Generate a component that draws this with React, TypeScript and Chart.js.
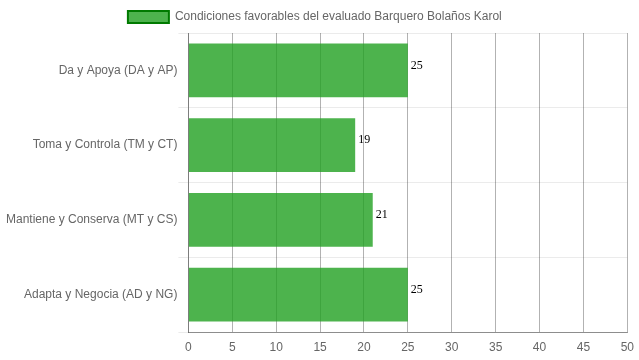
import React, { useEffect, useRef } from "react";
import { Chart, registerables } from "chart.js";
Chart.register(...registerables);

const categories = [
  "Da y Apoya (DA y AP)",
  "Toma y Controla (TM y CT)",
  "Mantiene y Conserva (MT y CS)",
  "Adapta y Negocia (AD y NG)",
];
const values = [25, 19, 21, 25];
const seriesLabel = "Condiciones favorables del evaluado Barquero Bolaños Karol";

const valueLabels = {
  id: "valueLabels",
  afterDatasetsDraw(chart: any) {
    const ctx = chart.ctx;
    const meta = chart.getDatasetMeta(0);
    ctx.save();
    ctx.font = "12px 'Liberation Serif', 'Times New Roman', serif";
    ctx.fillStyle = "#000";
    ctx.textAlign = "left";
    ctx.textBaseline = "middle";
    meta.data.forEach((bar: any, i: number) => {
      ctx.fillText(String(values[i]), bar.x + 3, bar.y - 5);
    });
    ctx.restore();
  },
};

export default function App() {
  const ref = useRef<HTMLCanvasElement>(null);
  useEffect(() => {
    Chart.defaults.font.family = "'Liberation Sans', Arial, sans-serif";
    Chart.defaults.font.size = 12;
    Chart.defaults.color = "#666";
    const chart = new Chart(ref.current!, {
      type: "bar",
      data: {
        labels: categories,
        datasets: [
          {
            label: seriesLabel,
            data: values,
            backgroundColor: "rgba(32,160,32,0.8)",
            borderWidth: 0,
          },
        ],
      },
      options: {
        indexAxis: "y",
        animation: false,
        responsive: true,
        maintainAspectRatio: false,
        layout: { padding: { left: 5, right: 1, top: 1, bottom: 0 } },
        plugins: {
          tooltip: { enabled: false },
          legend: {
            labels: {
              boxWidth: 41,
              boxHeight: 12,
              padding: 10,
              color: "#666",
              generateLabels: () => [
                {
                  text: seriesLabel + "    ",
                  fillStyle: "rgba(32,160,32,0.8)",
                  strokeStyle: "#007a00",
                  lineWidth: 2,
                  hidden: false,
                  datasetIndex: 0,
                  fontColor: "#666",
                } as any,
              ],
            },
          },
        },
        scales: {
          x: {
            min: 0,
            max: 50,
            ticks: { stepSize: 5, color: "#666", padding: 5, font: { size: 12, lineHeight: 1.73 } },
            grid: { color: "rgba(0,0,0,0.3)", drawTicks: false },
            border: { color: "rgba(0,0,0,0.4)" },
            afterFit: (scale: any) => {
              scale.height = 28;
            },
          },
          y: {
            ticks: { color: "#666", padding: 1 },
            grid: { color: "rgba(0,0,0,0.08)", tickLength: 10 },
            border: { color: "rgba(0,0,0,0.3)" },
          },
        },
      },
      plugins: [valueLabels],
    });
    return () => chart.destroy();
  }, []);
  return (
    <div style={{ position: "fixed", left: 0, top: 0, width: 639, height: 360 }}>
      <canvas ref={ref} />
    </div>
  );
}
